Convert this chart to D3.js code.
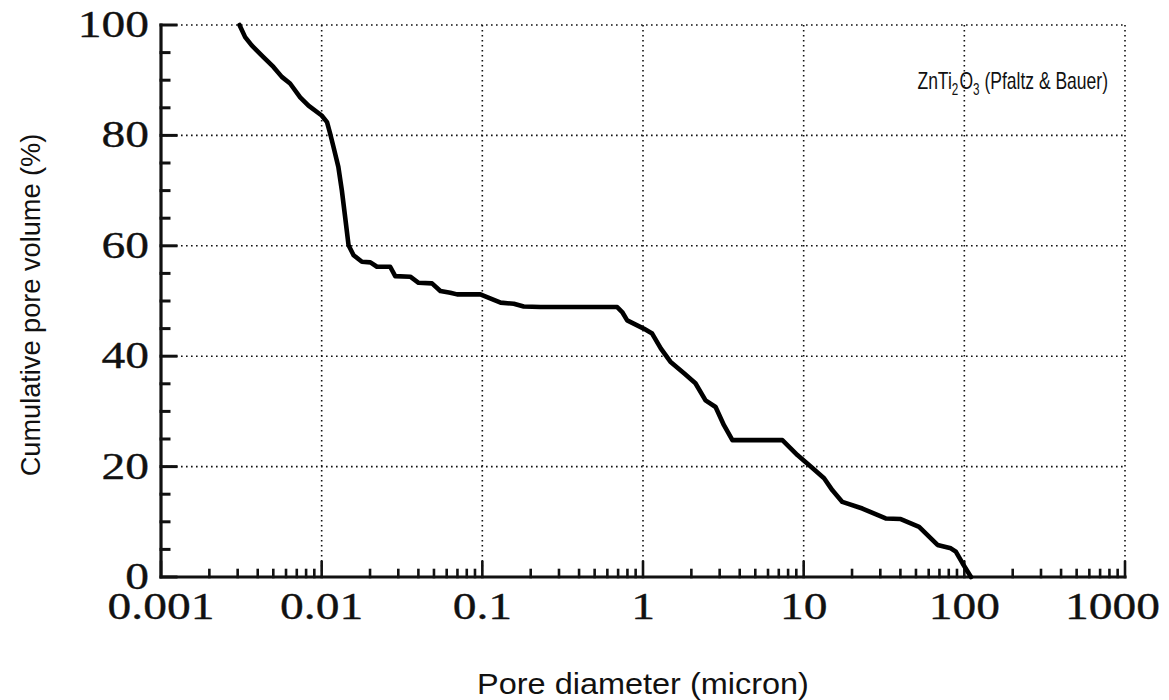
<!DOCTYPE html>
<html>
<head>
<meta charset="utf-8">
<script src="https://cdn.jsdelivr.net/npm/d3@7"></script>
<style>
  html, body { margin: 0; padding: 0; background: #fff; }
  svg { display: block; }
</style>
</head>
<body>
<svg id="chart" width="1169" height="700"></svg>
<script>
// Pore size distribution of ZnTi2O3 powder (mercury porosimetry)
const poreDiameter = [
  0.00308, 0.00334, 0.00367, 0.00434, 0.00501, 0.00565, 0.00636, 0.00735, 0.00828,
  0.0100, 0.0108, 0.0113, 0.01185, 0.0127, 0.01336, 0.0140, 0.0147, 0.0158, 0.0178,
  0.0201, 0.0221, 0.0267, 0.0287, 0.0356, 0.0401, 0.0486, 0.0548, 0.0632, 0.0696,
  0.0972, 0.107, 0.130, 0.157, 0.181, 0.230, 0.691, 0.742, 0.797, 1.01, 1.14,
  1.29, 1.48, 1.80, 2.12, 2.45, 2.83, 3.19, 3.60, 7.37, 9.14, 11.06, 13.4,
  15.1, 17.4, 23.2, 32.4, 40.2, 52.3, 68.1, 82.4, 88.5, 97.4, 110
];
const cumulativeVolume = [
  100, 97.8, 96.3, 94.2, 92.4, 90.6, 89.4, 86.9, 85.4,
  83.6, 82.4, 80.3, 77.9, 74.3, 70.0, 65.2, 60.1, 58.3, 57.1,
  57.0, 56.2, 56.2, 54.5, 54.4, 53.3, 53.2, 51.8, 51.5, 51.2,
  51.2, 50.7, 49.7, 49.5, 49.0, 48.9, 48.9, 48.0, 46.5, 45.0, 44.1,
  41.4, 39.0, 36.9, 35.1, 32.0, 30.8, 27.5, 24.8, 24.8, 22.1, 20.0, 17.9,
  15.7, 13.6, 12.4, 10.6, 10.5, 9.1, 5.8, 5.2, 4.6, 2.5, 0
];
const xTickLabels = ["0.001", "0.01", "0.1", "1", "10", "100", "1000"];
const yTickLabels = ["0", "20", "40", "60", "80", "100"];

const svg = d3.select("#chart");
const plot = { left: 161, right: 1125, top: 25, bottom: 577 };

const x = d3.scaleLog().domain([0.001, 1000]).range([plot.left, plot.right]);
const y = d3.scaleLinear().domain([0, 100]).range([plot.bottom, plot.top]);

const majorX = xTickLabels.map(Number);
const minorX = [];
majorX.slice(0, -1).forEach(d => { for (let k = 2; k <= 9; k++) minorX.push(d * k); });
const majorY = yTickLabels.map(Number);
const minorY = d3.range(0, 101, 5).filter(v => v % 20 !== 0);

const ink = "#111";

// dotted grid (also forms the top and right frame)
const grid = svg.append("g").attr("stroke", ink).attr("stroke-width", 1.6)
  .attr("stroke-dasharray", "1.6,3.4").attr("fill", "none");
majorX.slice(1).forEach(v => {
  grid.append("line").attr("x1", x(v)).attr("x2", x(v)).attr("y1", plot.top).attr("y2", plot.bottom);
});
majorY.slice(1).forEach(v => {
  grid.append("line").attr("x1", plot.left).attr("x2", plot.right).attr("y1", y(v)).attr("y2", y(v));
});

// solid left and bottom axes with inward ticks
const axes = svg.append("g").attr("stroke", ink).attr("fill", "none").attr("stroke-linecap", "square");
axes.append("path").attr("stroke-width", 3.2)
  .attr("d", `M${plot.left},${plot.top}V${plot.bottom}H${plot.right}`);
majorY.forEach(v => axes.append("line").attr("stroke-width", 3)
  .attr("x1", plot.left).attr("x2", plot.left + 15).attr("y1", y(v)).attr("y2", y(v)));
minorY.forEach(v => axes.append("line").attr("stroke-width", 3)
  .attr("x1", plot.left).attr("x2", plot.left + 8).attr("y1", y(v)).attr("y2", y(v)));
majorX.forEach(v => axes.append("line").attr("stroke-width", 2.6)
  .attr("x1", x(v)).attr("x2", x(v)).attr("y1", plot.bottom).attr("y2", plot.bottom - 15));
minorX.forEach(v => axes.append("line").attr("stroke-width", 2.6)
  .attr("x1", x(v)).attr("x2", x(v)).attr("y1", plot.bottom).attr("y2", plot.bottom - 7));

// tick labels (wide serif face); the last x label is pulled in to stay on the page
const serif = "'Liberation Serif', 'Times New Roman', serif";
const wide = 1.25;
const lastX = xTickLabels[xTickLabels.length - 1];
svg.append("g").selectAll("text").data(xTickLabels).join("text")
  .attr("transform", d => d === lastX
    ? `translate(1160,619) scale(${wide},1)`
    : `translate(${x(+d)},619) scale(${wide},1)`)
  .attr("text-anchor", d => d === lastX ? "end" : "middle")
  .attr("font-family", serif).attr("font-size", 38)
  .attr("fill", ink).attr("stroke", ink).attr("stroke-width", 0.35).text(d => d);
svg.append("g").selectAll("text").data(yTickLabels).join("text")
  .attr("transform", d => `translate(149,${y(+d) + 12}) scale(${wide},1)`)
  .attr("text-anchor", "end").attr("font-family", serif).attr("font-size", 38)
  .attr("fill", ink).attr("stroke", ink).attr("stroke-width", 0.35).text(d => d);

// axis titles
const sans = "'Liberation Sans', Arial, Helvetica, sans-serif";
svg.append("text").attr("transform", "translate(643,694) scale(1.12,1)").attr("text-anchor", "middle")
  .attr("font-family", sans).attr("font-size", 29).attr("fill", ink)
  .text("Pore diameter (micron)");
svg.append("text").attr("transform", "translate(40,305) rotate(-90) scale(0.97,1)").attr("text-anchor", "middle")
  .attr("font-family", sans).attr("font-size", 28).attr("fill", ink)
  .text("Cumulative pore volume (%)");

// sample label
const lab = svg.append("text").attr("transform", "translate(1108,89) scale(0.73,1)").attr("text-anchor", "end")
  .attr("font-family", sans).attr("font-size", 24).attr("fill", ink);
lab.append("tspan").text("ZnTi");
lab.append("tspan").attr("font-size", 16).attr("dy", 6).text("2");
lab.append("tspan").attr("dy", -6).attr("dx", 1.5).text("O");
lab.append("tspan").attr("font-size", 16).attr("dy", 6).text("3");
lab.append("tspan").attr("dy", -6).text(" (Pfaltz & Bauer)");

// cumulative pore volume curve
const points = poreDiameter.map((d, i) => [d, cumulativeVolume[i]]);
svg.append("path").datum(points)
  .attr("fill", "none").attr("stroke", "#000").attr("stroke-width", 4.6)
  .attr("stroke-linejoin", "round").attr("stroke-linecap", "round")
  .attr("d", d3.line().x(d => x(d[0])).y(d => y(d[1])));
</script>
</body>
</html>
